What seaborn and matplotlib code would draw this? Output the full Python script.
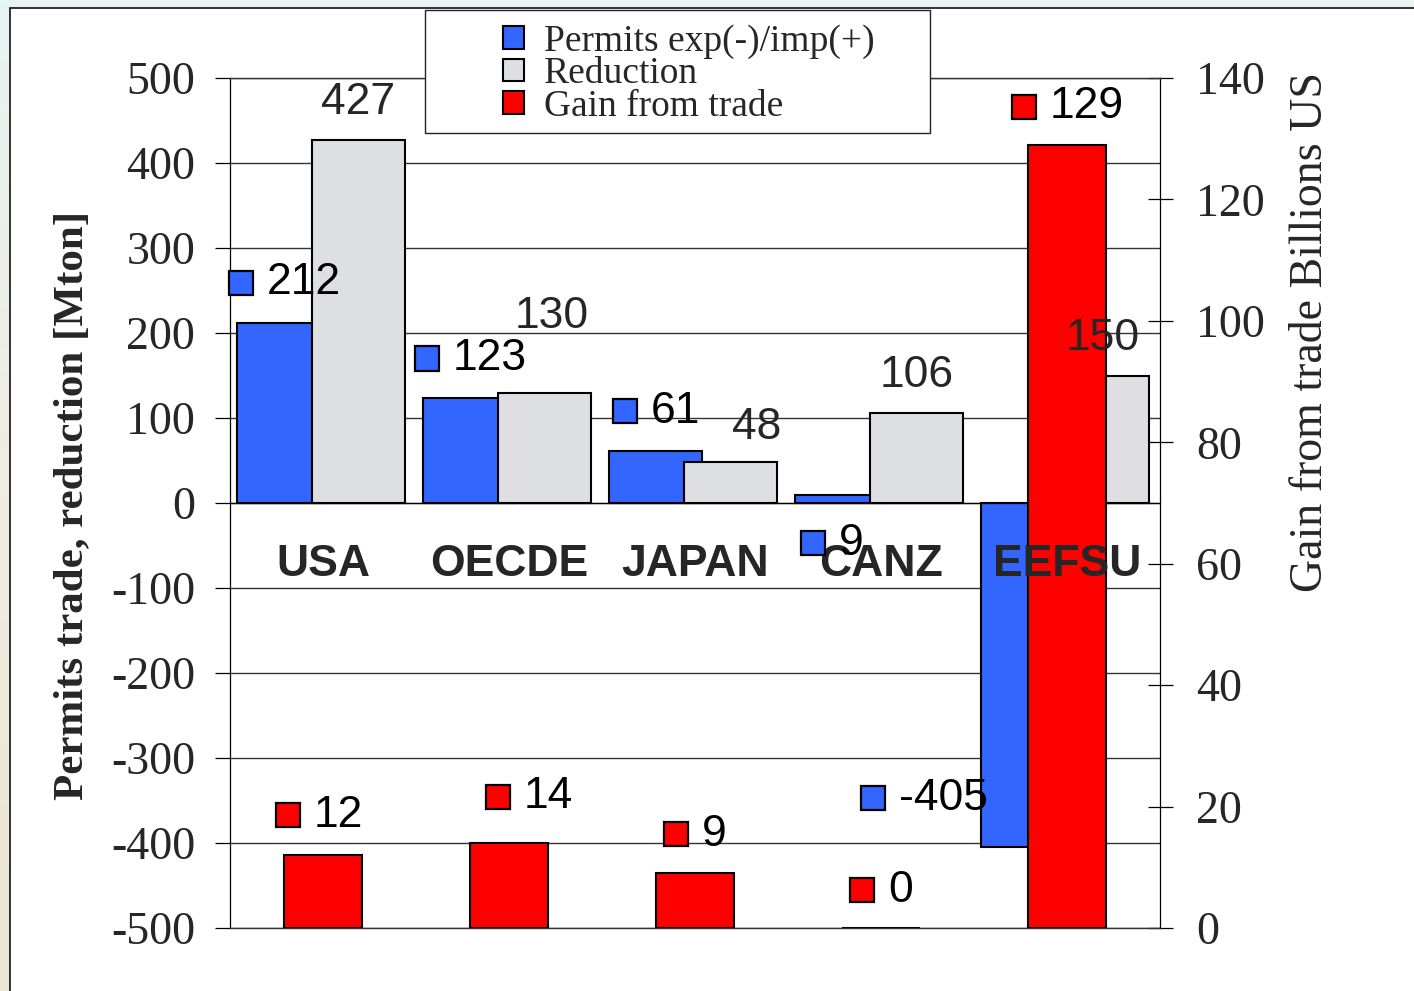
import numpy as np
import matplotlib
matplotlib.use("Agg")
import matplotlib.pyplot as plt
import seaborn as sns
from matplotlib.patches import Rectangle, Patch
from matplotlib.colors import LinearSegmentedColormap
from matplotlib.offsetbox import DrawingArea, TextArea, HPacker, AnnotationBbox
from matplotlib.transforms import Bbox, TransformedBbox

# ---- data -------------------------------------------------------------
regions = ["USA", "OECDE", "JAPAN", "CANZ", "EEFSU"]
permits = [212, 123, 61, 9, -405]        # Mton, exports (-) / imports (+)
reduction = [427, 130, 48, 106, 150]     # Mton
gain = [12, 14, 9, 0, 129]               # billions US$

left_ticks = list(range(-500, 501, 100))
right_ticks = list(range(0, 141, 20))
legend_labels = ["Permits exp(-)/imp(+)", "Reduction", "Gain from trade"]

# ---- layout / style ---------------------------------------------------
# label nudges in pixels (dx, dy) measured from the end of each bar
permit_nudge = [(0, 42), (0, 42), (0, 42), (-10, -46), (-104, 51)]
reduction_nudge = [(0, 42), (7, 80), (26, 39), (0, 42), (0, 42)]
gain_nudge = [(-4, 42), (20, 48), (0, 41), (0, 40), (0, 40)]

BLUE, GREY, RED = "#3366ff", "#dedfe2", "#ff0000"
SERIF, SANS = "Liberation Serif", "Liberation Sans"

sns.set_style("white")
plt.rcParams["axes.unicode_minus"] = False

W, H = 1414, 991
fig = plt.figure(figsize=(W / 100, H / 100), dpi=100)

# slide backdrop and white chart panel
bg = fig.add_axes([0, 0, 1, 1], zorder=-10)
cmap = LinearSegmentedColormap.from_list("bg", ["#e6f4f2", "#f0ece0", "#ece4d4"])
bg.imshow(np.linspace(0, 1, 256)[:, None], aspect="auto", cmap=cmap,
          extent=[0, 1, 0, 1], origin="upper")
bg.set_xlim(0, 1)
bg.set_ylim(0, 1)
bg.axis("off")
bg.add_patch(Rectangle((10 / W, -0.05), 1.1, 1.05 - 8 / H, transform=bg.transAxes,
                       fc="white", ec="#222222", lw=1.3, clip_on=False))

# ---- main axes (Mton) --------------------------------------------------
ax = fig.add_axes([230 / W, 1 - 928 / H, 930 / W, 850 / H])
ax.set_facecolor("none")
xpos = np.arange(len(regions))
bar_kw = dict(native_scale=True, saturation=1, edgecolor="black", linewidth=1.5,
              errorbar=None, orient="x")
sns.barplot(x=xpos - 0.21, y=permits, width=0.5, color=BLUE, ax=ax, **bar_kw)
sns.barplot(x=xpos + 0.19, y=reduction, width=0.5, color=GREY, ax=ax, **bar_kw)

# ---- secondary axes (billions US$) ------------------------------------
ax2 = ax.twinx()
sns.barplot(x=xpos, y=gain, width=0.414, color=RED, ax=ax2, **bar_kw)

for a in (ax, ax2):
    a.set_xlim(-0.5, len(regions) - 0.5)
    a.set_xlabel("")
    a.set_ylabel("")
ax.set_ylim(-500, 500)
ax2.set_ylim(0, 140)

# left axis
ax.set_yticks(left_ticks)
ax.set_yticklabels([str(t) for t in left_ticks], fontfamily=SERIF, fontsize=33)
ax.tick_params(axis="y", direction="out", length=11, width=0.9, color="black", pad=14)
ax.yaxis.grid(True, color="#333333", lw=1.0)
ax.xaxis.grid(False)
ax.set_axisbelow(True)
for s in ("top", "right"):
    ax.spines[s].set_visible(False)
ax.spines["left"].set_color("black")
ax.spines["left"].set_linewidth(0.9)
ax.spines["bottom"].set_position(("data", 0))
ax.spines["bottom"].set_color("black")
ax.spines["bottom"].set_linewidth(0.9)
ax.set_xticks(xpos)
ax.set_xticklabels([""] * len(regions))
ax.tick_params(axis="x", which="major", length=0)
ax.set_xticks(xpos[:-1] + 0.5, minor=True)
ax.tick_params(axis="x", which="minor", direction="out", length=7.5, width=0.9,
               color="black")

# right axis
ax2.set_yticks(right_ticks)
ax2.set_yticklabels([str(t) for t in right_ticks], fontfamily=SERIF, fontsize=33)
ax2.tick_params(axis="y", direction="inout", length=18, width=0.9, color="black", pad=17)
ax2.grid(False)
ax2.spines["left"].set_visible(False)
for s in ("top", "bottom"):
    ax2.spines[s].set_color("#333333")
    ax2.spines[s].set_linewidth(1.0)
ax2.spines["right"].set_color("black")
ax2.spines["right"].set_linewidth(0.9)

# region names sit just under the zero line, drawn above all bars
for i, name in enumerate(regions):
    ax2.annotate(name, xy=(i, 0), xycoords=ax.transData, xytext=(0, -73),
                 textcoords="offset pixels", ha="center", va="baseline",
                 fontfamily=SANS, fontweight="bold", fontsize=32, zorder=6)


# ---- value labels -------------------------------------------------------
def keyed_label(xv, yv, text, color, nudge, coords):
    key = DrawingArea(19, 19, 0, 0)
    key.add_artist(Rectangle((0.8, 0.8), 17.4, 17.4, fc=color, ec="black", lw=1.6))
    txt = TextArea(text, textprops=dict(fontfamily=SANS, fontsize=32, color="black"))
    pack = HPacker(children=[key, txt], align="center", pad=0, sep=9)
    ab = AnnotationBbox(pack, (xv, yv), xybox=(nudge[0], nudge[1] - 2),
                        xycoords=coords, boxcoords="offset pixels", frameon=False,
                        box_alignment=(0.5, 0.5), pad=0)
    ab.set_zorder(7)
    ax2.add_artist(ab)


for i, v in enumerate(permits):
    keyed_label(i - 0.21, v, str(v), BLUE, permit_nudge[i], ax.transData)
for i, v in enumerate(reduction):
    dx, dy = reduction_nudge[i]
    ax2.annotate(str(v), xy=(i + 0.19, v), xycoords=ax.transData,
                 xytext=(dx, dy - 16), textcoords="offset pixels",
                 ha="center", va="baseline", fontfamily=SANS, fontsize=32, zorder=7)
for i, v in enumerate(gain):
    keyed_label(i, v, str(v), RED, gain_nudge[i], ax2.transData)

# ---- axis titles --------------------------------------------------------
fig.text(72 / W, 1 - 505 / H, "Permits trade, reduction [Mton]", rotation=90,
         ha="center", va="center", fontfamily=SERIF, fontweight="bold", fontsize=31)
rt = fig.text(1311 / W, 1 - 592 / H, "Gain from trade Billions US$", rotation=90,
              ha="center", va="bottom", fontfamily=SERIF, fontsize=33)
rt.set_clip_box(TransformedBbox(Bbox([[0, 0], [1, 1 - 74 / H]]), fig.transFigure))
rt.set_clip_on(True)

# ---- legend -------------------------------------------------------------
ax2.add_patch(Rectangle((425 / W, 1 - 133 / H), 505 / W, 123 / H,
                        transform=fig.transFigure, fc="white", ec="#222222",
                        lw=1.0, clip_on=False, zorder=10))
handles = [Patch(fc=c, ec="black", lw=1.5) for c in (BLUE, GREY, RED)]
leg = ax2.legend(handles, legend_labels, loc="center",
                 bbox_to_anchor=(689 / W, 1 - 74 / H), bbox_transform=fig.transFigure,
                 frameon=False, prop=dict(family=SERIF, size=27),
                 handlelength=0.55, handleheight=0.55, handletextpad=0.55,
                 labelspacing=-0.06, borderpad=0)
leg.set_zorder(11)

fig.savefig("out.png", dpi=100)
